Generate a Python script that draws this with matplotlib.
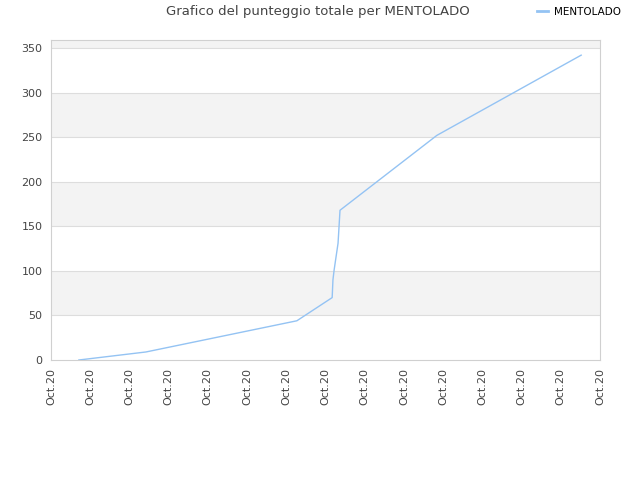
import matplotlib
matplotlib.use("Agg")
import matplotlib.pyplot as plt

# data (x as position in tick units, y as total score)
x_vals = [0.71, 2.42, 6.27, 7.17, 7.19, 7.22, 7.32, 7.37, 9.84, 13.52]
y_vals = [0, 9, 44, 70, 90, 101, 131, 168, 252, 342]
tick_labels = ["Oct.20"] * 15
y_ticks = [0, 50, 100, 150, 200, 250, 300, 350]
series_name = "MENTOLADO"
title = "Grafico del punteggio totale per MENTOLADO"

line_color = "#94c3f3"

fig = plt.figure(figsize=(6.4, 4.8), dpi=100)
ax = fig.add_axes([51/640, 1-360/480, (600-51)/640, (360-40)/480])

ymax = 359
ax.set_ylim(0, ymax)
ax.set_xlim(0, 14)

# alternating bands
for i, lo in enumerate(range(0, 400, 50)):
    if i % 2 == 1:
        ax.axhspan(lo, min(lo + 50, ymax), color="#f3f3f3", zorder=0, lw=0)
for yt in y_ticks[1:]:
    ax.axhline(yt, color="#dddddd", lw=0.8, zorder=1)

line, = ax.plot(x_vals, y_vals, color=line_color, lw=1.0, zorder=3, label=series_name)

ax.set_xticks(range(15))
ax.set_xticklabels(tick_labels, rotation=90, fontsize=8, color="#444444")
ax.set_yticks(y_ticks)
ax.set_yticklabels([str(v) for v in y_ticks], fontsize=8, color="#444444")
ax.tick_params(length=0, pad=6)
for s in ax.spines.values():
    s.set_color("#d0d0d0")
    s.set_linewidth(0.8)

fig.text(0.497, 0.975, title, ha="center", va="center", fontsize=9.5, color="#444444")
leg = fig.legend(handles=[line], labels=[series_name], loc="center",
                 bbox_to_anchor=(0.905, 0.975), frameon=False, fontsize=7.5,
                 handlelength=1.0, handletextpad=0.6)
for t in leg.get_texts():
    t.set_color("#000000")
for h in leg.legend_handles:
    h.set_linewidth(2.0)
    h.set_color(line_color)

fig.savefig("out.png", dpi=100, facecolor="white")
